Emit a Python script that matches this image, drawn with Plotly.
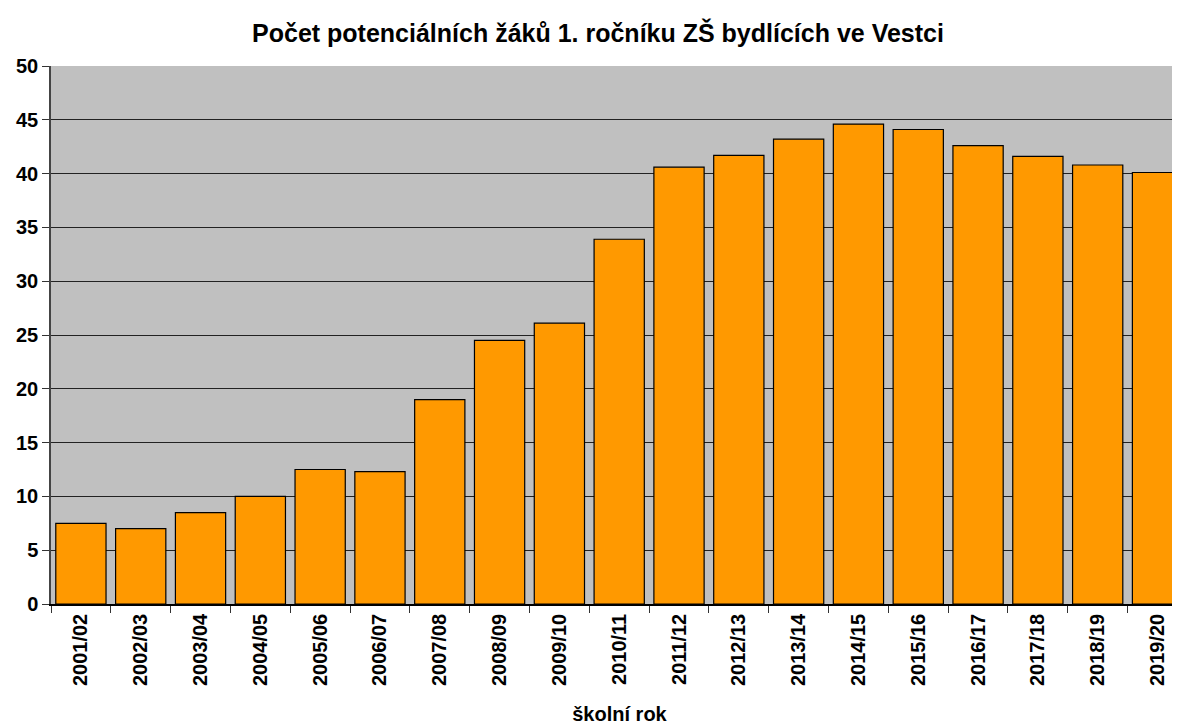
import plotly.graph_objects as go

categories = ["2001/02", "2002/03", "2003/04", "2004/05", "2005/06", "2006/07", "2007/08",
              "2008/09", "2009/10", "2010/11", "2011/12", "2012/13", "2013/14", "2014/15",
              "2015/16", "2016/17", "2017/18", "2018/19", "2019/20"]
values = [7.5, 7.0, 8.5, 10.0, 12.5, 12.3, 19.0, 24.5, 26.1, 33.9, 40.6, 41.7, 43.2, 44.6,
          44.1, 42.6, 41.6, 40.8, 40.1]
y_ticks = [0, 5, 10, 15, 20, 25, 30, 35, 40, 45, 50]

FONT = "Liberation Sans, Arial, sans-serif"

fig = go.Figure(go.Bar(
    x=categories, y=values,
    marker=dict(color="#FF9900", line=dict(color="#000000", width=1.2)),
    width=0.84,
))

fig.update_layout(
    width=1180, height=724,
    margin=dict(l=43, r=0, t=58, b=128, autoexpand=False),
    paper_bgcolor="white",
    plot_bgcolor="#C0C0C0",
    font=dict(family=FONT, color="black"),
    title=dict(text="Počet potenciálních žáků 1. ročníku ZŠ bydlících ve Vestci",
               x=0.5, xanchor="center", y=1 - 25 / 724, yanchor="middle",
               font=dict(size=25, weight="bold")),
    showlegend=False,
)
fig.update_xaxes(
    type="category", range=[-0.5, 18.51], automargin=False,
    tickangle=-90, tickfont=dict(size=20, weight="bold", family=FONT),
    ticks="outside", tickson="boundaries", ticklen=7, tickcolor="#333",
    showline=True, linecolor="black", linewidth=1.5,
    title=dict(text="školní rok", font=dict(size=20, weight="bold"), standoff=22),
)
fig.update_yaxes(
    range=[0, 50], tickvals=y_ticks, automargin=False,
    tickfont=dict(size=20, weight="bold", family=FONT),
    ticks="outside", ticklen=7, tickcolor="#333",
    showgrid=True, gridcolor="#222", gridwidth=1,
    showline=True, linecolor="#444", linewidth=1.5,
    zeroline=False,
)

fig.write_html("out.html")
